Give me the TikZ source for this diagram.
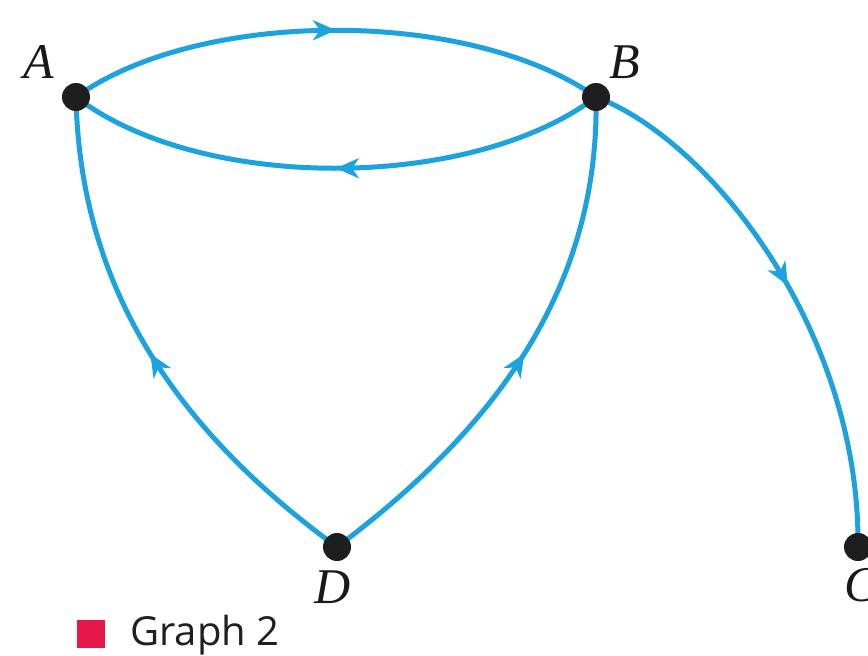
\documentclass[tikz,border=0pt]{standalone}
\usepackage{fontspec}
\setmainfont{Liberation Serif}
\newfontfamily\legendfont{Open Sans}
\usetikzlibrary{arrows.meta,decorations.markings}
\definecolor{edgeblue}{RGB}{28,162,222}
\definecolor{legendred}{RGB}{232,23,74}
\definecolor{dotblack}{RGB}{30,30,30}
\tikzset{
  vdot/.style={circle,fill=dotblack,inner sep=0pt,minimum size=28pt},
  vlabel/.style={font=\fontsize{50}{60}\selectfont\itshape,inner sep=0pt,text=black!90},
  edge/.style={draw=edgeblue,line width=5pt,postaction={decorate},
    decoration={markings,mark=at position #1 with {\arrow{Stealth[length=23pt,width=20pt,inset=7pt]}}}},
  edge/.default=0.5
}
\begin{document}
\begin{tikzpicture}[x=1pt,y=-1pt]
\useasboundingbox (0,0) rectangle (868,656);
\coordinate (A) at (76,97);
\coordinate (B) at (596,97);
\coordinate (D) at (337,547);
\coordinate (C) at (858,547);
% edges
\path[edge=0.5] (A) .. controls (200,8) and (470,8) .. (B);
\path[edge=0.5] (B) .. controls (470,192) and (200,192) .. (A);
\path[edge=0.5] (D) .. controls (190,440) and (80,300) .. (A);
\path[edge=0.5] (D) .. controls (480,440) and (600,300) .. (B);
\path[edge=0.5] (B) .. controls (710,140) and (860,330) .. (C);
% vertices
\node[vdot] (nA) at (A) {};
\node[vdot] (nB) at (B) {};
\node[vdot] (nD) at (D) {};
\node[vdot] (nC) at (C) {};
% labels
\node[vlabel] (lA) at (39,62) {A};
\node[vlabel] (lB) at (625,62) {B};
\node[vlabel] (lD) at (333,587) {D};
\node[vlabel] (lC) at (861,585) {C};
% legend
\node[fill=legendred,minimum width=28pt,minimum height=28pt,inner sep=0pt,anchor=north west] (sq) at (77,620) {};
\node[font=\legendfont\fontsize{40}{48}\selectfont,inner sep=0pt,anchor=base west,text=black!88] (lg) at (130,645) {Graph 2};
\end{tikzpicture}
\end{document}
